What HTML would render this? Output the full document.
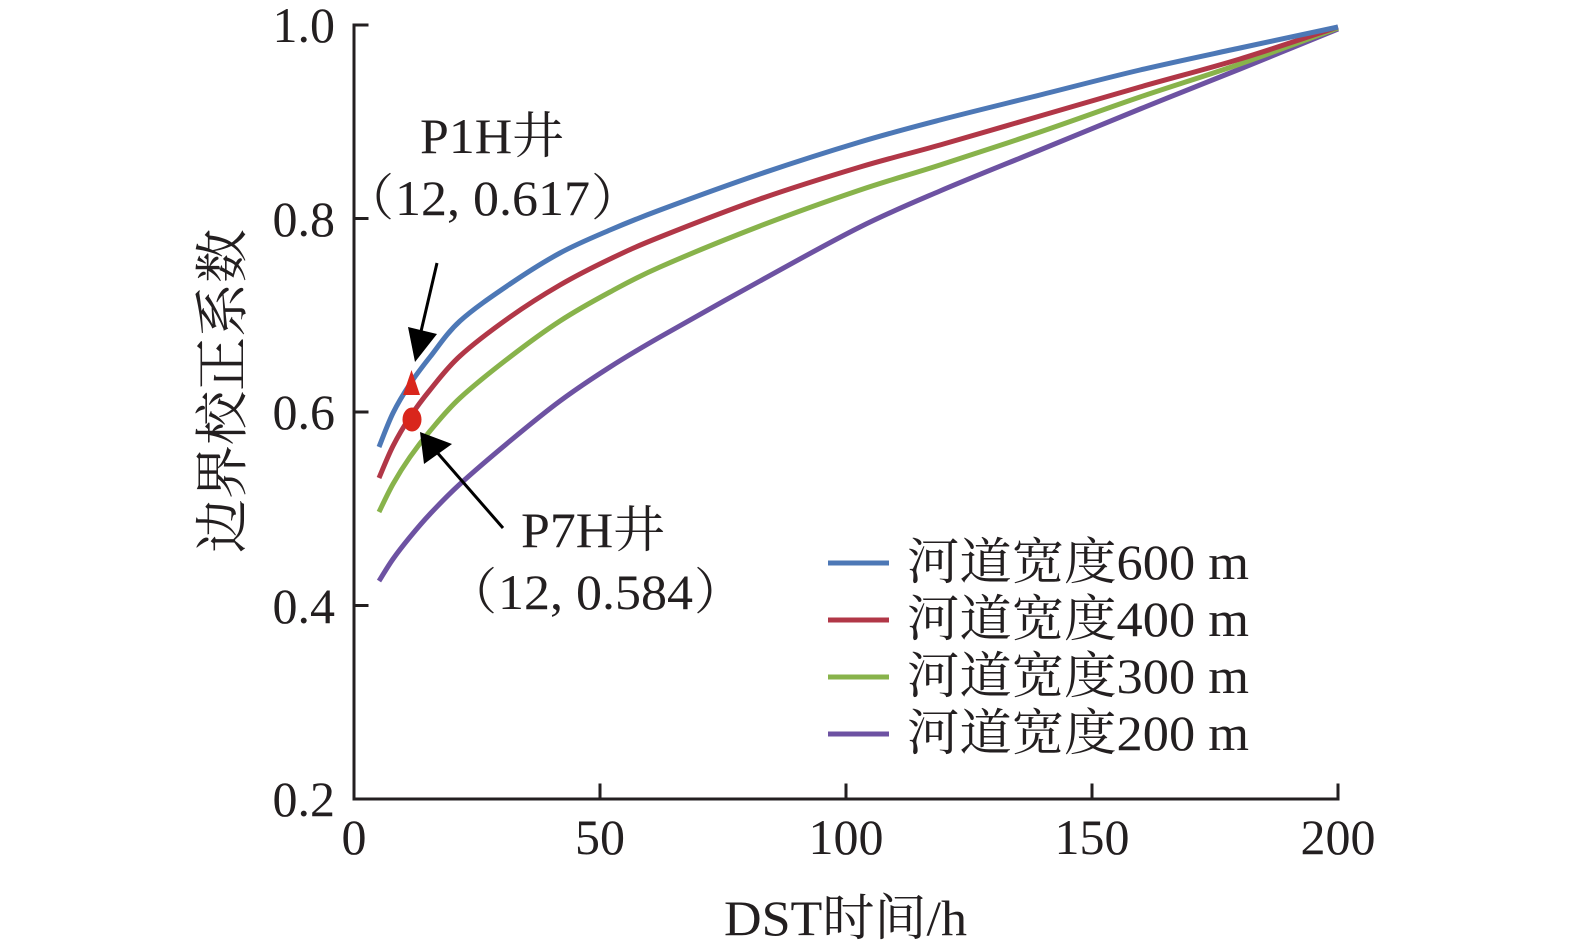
<!DOCTYPE html>
<html>
<head>
<meta charset="utf-8">
<style>
  html, body { margin: 0; padding: 0; background: #ffffff; }
  body { width: 1575px; height: 945px; overflow: hidden; }
  svg { display: block; }
  .t { font-family: "Liberation Serif", "Noto Serif CJK SC", serif; fill: #231f20; }
</style>
</head>
<body>
<svg id="chart" width="1575" height="945" viewBox="0 0 1575 945" xmlns="http://www.w3.org/2000/svg">
  <rect x="0" y="0" width="1575" height="945" fill="#ffffff"/>

  <!-- axes -->
  <g stroke="#231f20" stroke-width="3" fill="none" stroke-linecap="square">
    <polyline points="367,25 354,25 354,799 1338,799 1338,785"/>
    <line x1="354" y1="218.5" x2="367" y2="218.5"/>
    <line x1="354" y1="412" x2="367" y2="412"/>
    <line x1="354" y1="605.5" x2="367" y2="605.5"/>
    <line x1="600" y1="799" x2="600" y2="785"/>
    <line x1="846" y1="799" x2="846" y2="785"/>
    <line x1="1092" y1="799" x2="1092" y2="785"/>
  </g>

  <!-- y tick labels -->
  <g class="t" font-size="50" text-anchor="end">
    <text x="335" y="42">1.0</text>
    <text x="335" y="236">0.8</text>
    <text x="335" y="429">0.6</text>
    <text x="335" y="623">0.4</text>
    <text x="335" y="816">0.2</text>
  </g>

  <!-- x tick labels -->
  <g class="t" font-size="50" text-anchor="middle">
    <text x="354" y="854">0</text>
    <text x="600" y="854">50</text>
    <text x="846" y="854">100</text>
    <text x="1092" y="854">150</text>
    <text x="1338" y="854">200</text>
  </g>

  <!-- axis titles -->
  <text class="t" x="724" y="935" font-size="50" textLength="243" lengthAdjust="spacingAndGlyphs">DST时间/h</text>
  <text class="t" font-size="54" text-anchor="middle" transform="translate(241,391) rotate(-90)">边界校正系数</text>

  <!-- curves -->
  <g id="curves" fill="none" stroke-width="5" stroke-linejoin="round" stroke-linecap="butt">
    <polyline stroke="#6d52a2" points="379,581 393,559 410,537 430,514 460,484 510,441 560,401 610,367 660,337 760,281 860,227 940,191 1040,150 1140,109 1240,69 1338,29"/>
    <polyline stroke="#88b34b" points="379,512 393,484 410,457 430,431 460,398 510,357 560,321 610,292 660,267 760,226 860,190 940,165 1040,132 1140,97 1240,64 1338,28"/>
    <polyline stroke="#b13747" points="379,478 393,446 410,417 430,390 460,356 510,317 560,285 610,259 660,237 760,199 860,167 940,145 1040,116 1140,87 1240,59 1338,27"/>
    <polyline stroke="#4d78b6" points="379,447 393,413 410,384 430,357 460,321 510,284 560,253 610,230 660,210 760,174 860,142 940,120 1040,95 1140,70 1240,48 1338,27"/>
  </g>

  <!-- markers -->
  <polygon points="411.5,370 403,395 420,395" fill="#d9261c"/>
  <ellipse cx="412" cy="419.5" rx="9.5" ry="12" fill="#d9261c"/>

  <!-- arrows -->
  <g stroke="#000" stroke-width="3" fill="none">
    <line x1="437" y1="263" x2="419" y2="340"/>
    <line x1="503" y1="528" x2="435" y2="450"/>
  </g>
  <polygon points="415,362 408,327 437,334" fill="#000"/>
  <polygon points="420,432 424,464 452,444" fill="#000"/>

  <!-- annotations -->
  <text class="t" x="420" y="153" font-size="50" textLength="144" lengthAdjust="spacingAndGlyphs">P1H井</text>
  <text class="t" x="344" y="215" font-size="50">（</text>
  <text class="t" x="395" y="215" font-size="50" textLength="195" lengthAdjust="spacingAndGlyphs">12, 0.617</text>
  <text class="t" x="591" y="215" font-size="50">）</text>

  <text class="t" x="521" y="547" font-size="50" textLength="144" lengthAdjust="spacingAndGlyphs">P7H井</text>
  <text class="t" x="447" y="609" font-size="50">（</text>
  <text class="t" x="498" y="609" font-size="50" textLength="195" lengthAdjust="spacingAndGlyphs">12, 0.584</text>
  <text class="t" x="694" y="609" font-size="50">）</text>

  <!-- legend -->
  <g stroke-width="5">
    <line x1="828" y1="563" x2="889" y2="563" stroke="#4d78b6"/>
    <line x1="828" y1="620" x2="889" y2="620" stroke="#b13747"/>
    <line x1="828" y1="677" x2="889" y2="677" stroke="#88b34b"/>
    <line x1="828" y1="734" x2="889" y2="734" stroke="#6d52a2"/>
  </g>
  <g class="t" font-size="50">
    <text x="907" y="579" textLength="342" lengthAdjust="spacingAndGlyphs">河道宽度600 m</text>
    <text x="907" y="636" textLength="342" lengthAdjust="spacingAndGlyphs">河道宽度400 m</text>
    <text x="907" y="693" textLength="342" lengthAdjust="spacingAndGlyphs">河道宽度300 m</text>
    <text x="907" y="750" textLength="342" lengthAdjust="spacingAndGlyphs">河道宽度200 m</text>
  </g>
</svg>
<script>
(function(){
  var NS = "http://www.w3.org/2000/svg";
  var g = document.getElementById("curves");
  var pls = Array.prototype.slice.call(g.querySelectorAll("polyline"));
  pls.forEach(function(pl){
    var pts = pl.getAttribute("points").trim().split(/\s+/).map(function(s){
      var a = s.split(","); return [parseFloat(a[0]), parseFloat(a[1])];
    });
    var d = "M" + pts[0][0] + "," + pts[0][1];
    for (var i = 0; i < pts.length - 1; i++) {
      var p0 = pts[i === 0 ? 0 : i - 1];
      var p1 = pts[i];
      var p2 = pts[i + 1];
      var p3 = pts[i + 2 < pts.length ? i + 2 : pts.length - 1];
      var c1x = p1[0] + (p2[0] - p0[0]) / 6;
      var c1y = p1[1] + (p2[1] - p0[1]) / 6;
      var c2x = p2[0] - (p3[0] - p1[0]) / 6;
      var c2y = p2[1] - (p3[1] - p1[1]) / 6;
      d += " C" + c1x.toFixed(2) + "," + c1y.toFixed(2) + " " + c2x.toFixed(2) + "," + c2y.toFixed(2) + " " + p2[0] + "," + p2[1];
    }
    var path = document.createElementNS(NS, "path");
    path.setAttribute("d", d);
    path.setAttribute("stroke", pl.getAttribute("stroke"));
    g.insertBefore(path, pl);
    g.removeChild(pl);
  });
})();
</script>
</body>
</html>
